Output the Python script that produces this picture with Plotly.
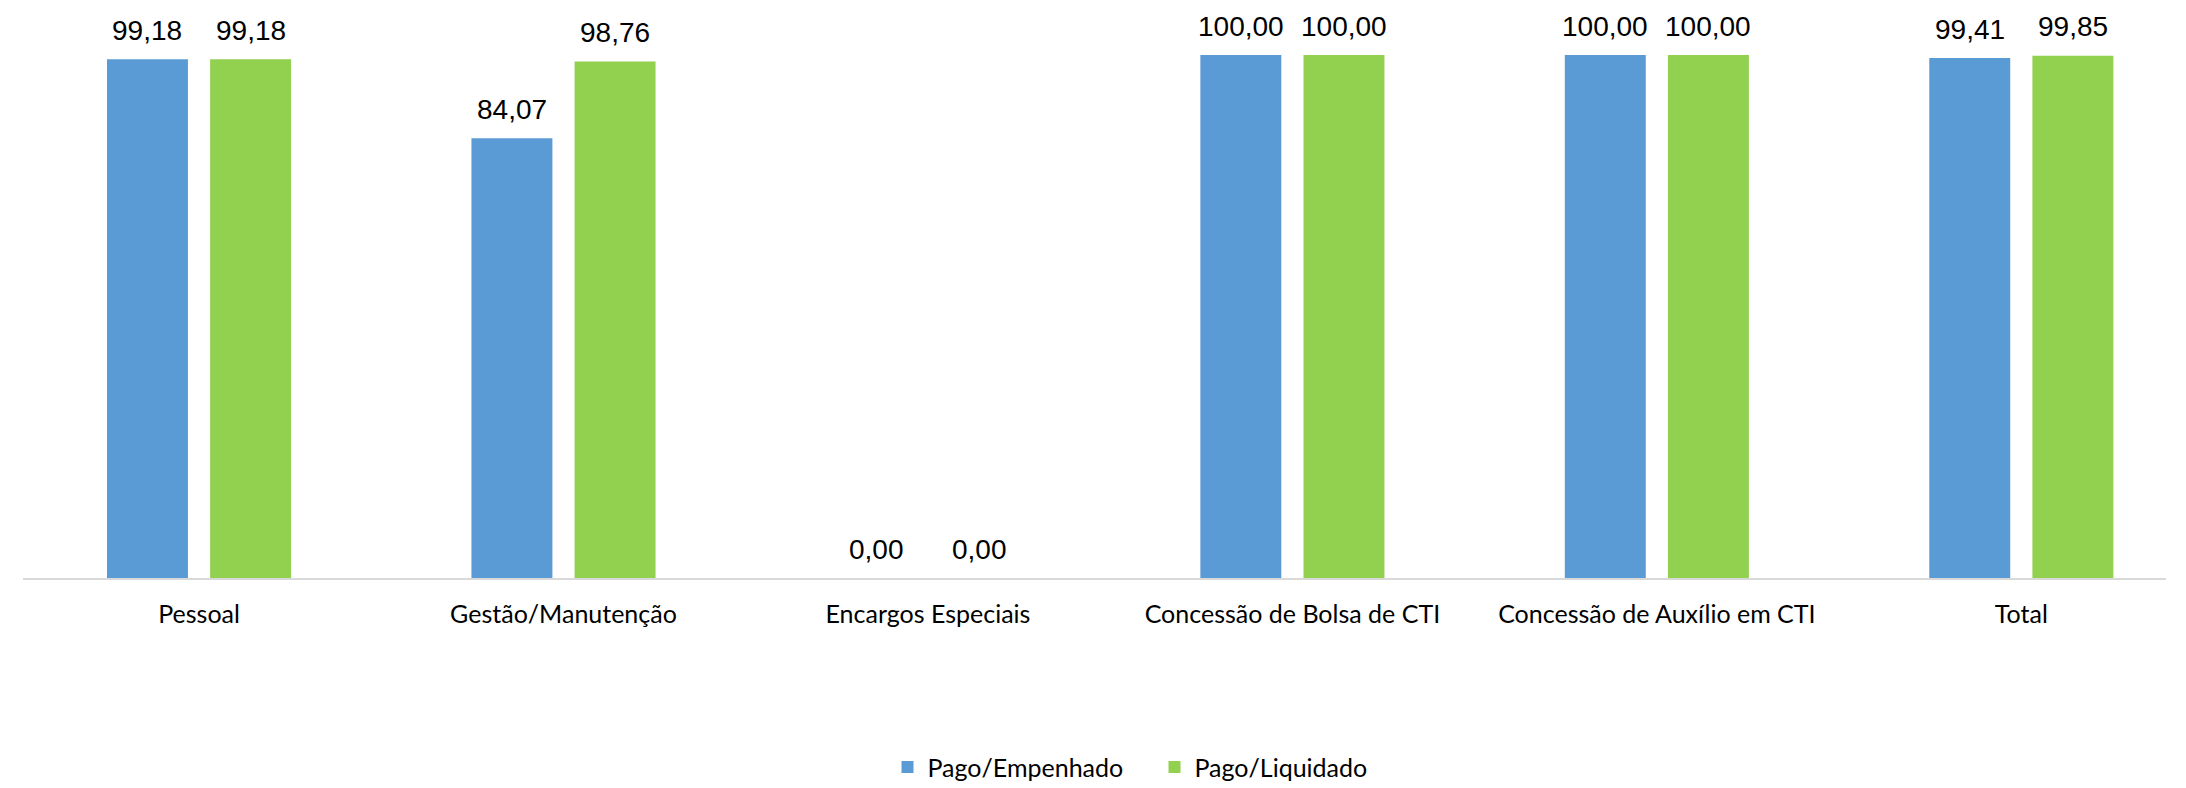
import plotly.graph_objects as go

categories = ["Pessoal", "Gestão/Manutenção", "Encargos Especiais",
              "Concessão de Bolsa de CTI", "Concessão de Auxílio em CTI", "Total"]
pago_empenhado = [99.18, 84.07, 0.00, 100.00, 100.00, 99.41]
pago_liquidado = [99.18, 98.76, 0.00, 100.00, 100.00, 99.85]
series_names = ["Pago/Empenhado", "Pago/Liquidado"]
colors = ["#5B9BD5", "#92D050"]

W, H = 2186, 788
fig = go.Figure()
series = [pago_empenhado, pago_liquidado]
for name, vals, col in zip(series_names, series, colors):
    fig.add_trace(go.Bar(
        x=categories, y=vals, name=name, marker_color=col,
        marker_line_width=0, cliponaxis=False,
    ))

# data labels
offsets = [-51.6, 51.6]
for vals, xs in zip(series, offsets):
    for c, v in zip(categories, vals):
        fig.add_annotation(
            x=c, y=v, xref="x", yref="y", text=f"{v:.2f}".replace(".", ","),
            showarrow=False, xshift=xs, yshift=29, yanchor="middle", xanchor="center",
            font=dict(family="Liberation Sans, Arial", size=28, color="#000000"),
        )

fig.update_layout(
    width=W, height=H,
    separators=",.",
    barmode="group", bargap=0.434, bargroupgap=0.215,
    plot_bgcolor="white", paper_bgcolor="white",
    margin=dict(l=15, r=28, t=47, b=218, autoexpand=False),
    showlegend=True,
    legend=dict(orientation="h", x=0.528, xanchor="center", y=-0.362, yanchor="middle",
                font=dict(family="Lato", size=25, color="#000000"),
                traceorder="normal", entrywidth=222, entrywidthmode="pixels"),
    xaxis=dict(type="category", range=[-0.483, 5.397], showline=True, linecolor="#D9D9D9",
               linewidth=2, ticks="", showgrid=False, ticklabelstandoff=13,
               tickfont=dict(family="Lato", size=25, color="#000000")),
    yaxis=dict(range=[0, 100], visible=False, showgrid=False, zeroline=False),
)
fig.write_html("out.html")
